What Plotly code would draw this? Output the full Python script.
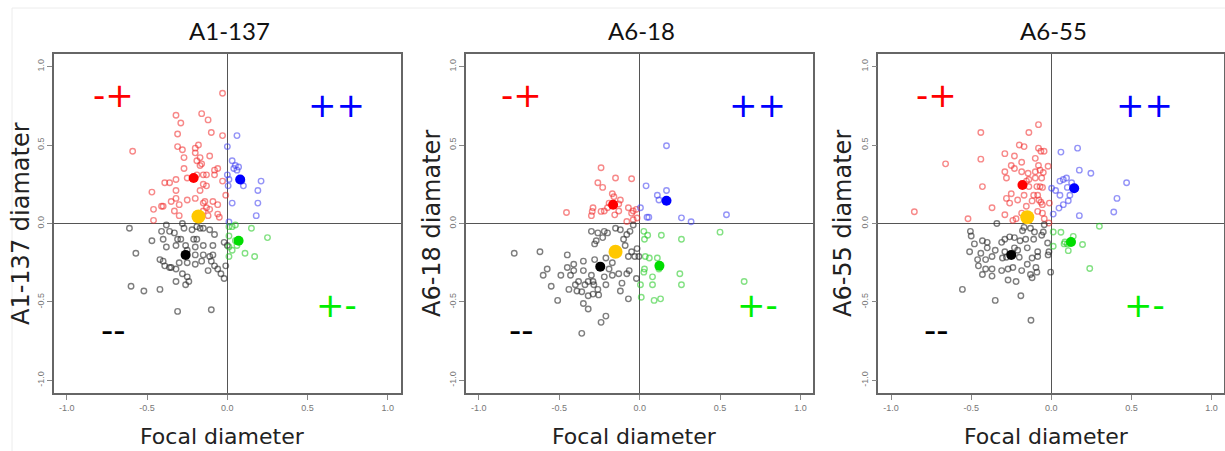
import plotly.graph_objects as go

# ---------------- data ----------------
titles = ["A1-137", "A6-18", "A6-55"]
y_titles = ["A1-137 diamater", "A6-18 diamater", "A6-55 diamater"]
x_title = "Focal diameter"
tick_vals = [-1.0, -0.5, 0.0, 0.5, 1.0]
tick_text = ["-1.0", "-0.5", "0.0", "0.5", "1.0"]
quad_labels = ["-+", "++", "+-", "--"]

# Panel 1: A1-137
a1_red_x = [-0.03, -0.59, -0.32, -0.16, -0.29, -0.12, -0.31, -0.10, -0.03, -0.31, -0.28, -0.20, -0.18, -0.20, -0.17,
            -0.27, -0.11, -0.19, -0.16, -0.17, -0.06, -0.08, -0.27, -0.15, -0.13, -0.08, -0.25, -0.19, -0.32, -0.36,
            -0.39, -0.03, -0.15, -0.17, -0.47, -0.32, -0.13, -0.01, -0.32, -0.35, -0.25, -0.20, -0.14, -0.09, -0.41,
            -0.40, -0.46, -0.30, -0.33, -0.13, -0.11, -0.06, -0.15, -0.06, -0.30, -0.46, -0.12, -0.05, -0.15]
a1_red_y = [0.83, 0.46, 0.69, 0.70, 0.64, 0.66, 0.57, 0.58, 0.56, 0.49, 0.47, 0.48, 0.50, 0.45, 0.42,
            0.42, 0.43, 0.40, 0.38, 0.37, 0.35, 0.34, 0.35, 0.31, 0.31, 0.31, 0.29, 0.31, 0.28, 0.26,
            0.26, 0.27, 0.25, 0.21, 0.20, 0.21, 0.24, 0.18, 0.16, 0.14, 0.15, 0.16, 0.14, 0.14, 0.11,
            0.11, 0.09, 0.12, 0.08, 0.10, 0.09, 0.12, 0.08, 0.06, 0.05, 0.02, 0.05, 0.04, 0.13]
a1_blue_x = [0.06, 0.00, 0.03, 0.05, 0.04, 0.06, 0.07, 0.00, 0.01, 0.005, 0.10, 0.09, 0.21, 0.19, 0.19, 0.03, 0.18, 0.01]
a1_blue_y = [0.56, 0.49, 0.40, 0.37, 0.35, 0.34, 0.36, 0.31, 0.28, 0.24, 0.24, 0.27, 0.27, 0.21, 0.13, 0.13, 0.05, 0.01]
a1_black_x = [-0.61, -0.47, -0.41, -0.38, -0.40, -0.36, -0.33, -0.31, -0.28, -0.27, -0.29, -0.22, -0.19, -0.17, -0.15,
              -0.11, -0.08, -0.21, -0.19, -0.26, -0.38, -0.32, -0.20, -0.15, -0.09, -0.02, 0.00, -0.57, -0.42, -0.40,
              -0.39, -0.36, -0.35, -0.32, -0.30, -0.25, -0.20, -0.20, -0.15, -0.16, -0.11, -0.09, -0.10, -0.08, -0.06,
              -0.12, -0.01, -0.04, -0.02, -0.28, -0.25, -0.24, -0.32, -0.26, -0.60, -0.52, -0.42, -0.31, -0.10, -0.25]
a1_black_y = [-0.03, -0.11, -0.05, -0.01, -0.10, -0.05, -0.06, -0.10, 0.00, -0.03, -0.10, -0.04, -0.02, -0.03, -0.03,
              -0.04, -0.07, -0.10, -0.10, -0.14, -0.15, -0.14, -0.15, -0.14, -0.14, -0.12, -0.14, -0.19, -0.23, -0.24,
              -0.27, -0.28, -0.28, -0.29, -0.25, -0.25, -0.20, -0.26, -0.20, -0.24, -0.21, -0.20, -0.24, -0.27, -0.29,
              -0.30, -0.27, -0.32, -0.35, -0.32, -0.34, -0.37, -0.37, -0.39, -0.40, -0.43, -0.42, -0.56, -0.55, -0.17]
a1_green_x = [0.01, 0.03, 0.05, 0.15, 0.25, 0.01, 0.01, 0.03, 0.05, 0.06, 0.01, 0.11, 0.17]
a1_green_y = [-0.02, -0.02, -0.01, -0.03, -0.09, -0.08, -0.15, -0.17, -0.11, -0.14, -0.21, -0.19, -0.21]
a1_mean_x = [-0.21, 0.08, -0.26, 0.07]      # red, blue, black, green
a1_mean_y = [0.29, 0.28, -0.20, -0.11]
a1_overall = [-0.18, 0.045]

# Panel 2: A6-18
a2_red_x = [-0.455, -0.24, -0.26, -0.23, -0.15, -0.05, -0.17, -0.16, -0.12, -0.13, -0.19, -0.29, -0.295, -0.30,
            -0.24, -0.22, -0.20, -0.155, -0.13, -0.07, -0.04, -0.05, -0.02, -0.04, -0.016, -0.08]
a2_red_y = [0.07, 0.355, 0.26, 0.23, 0.29, 0.285, 0.19, 0.17, 0.15, 0.125, 0.13, 0.10, 0.077, 0.05,
            0.077, 0.08, 0.10, 0.055, 0.08, 0.10, 0.08, 0.066, 0.09, 0.024, 0.035, 0.013]
a2_blue_x = [0.167, 0.04, 0.167, 0.11, 0.12, 0.005, 0.046, 0.057, 0.26, 0.32, 0.54]
a2_blue_y = [0.495, 0.24, 0.21, 0.18, 0.15, 0.10, 0.04, 0.04, 0.036, 0.011, 0.056]
a2_black_x = [-0.78, -0.62, -0.45, -0.575, -0.60, -0.55, -0.51, -0.49, -0.45, -0.43, -0.44, -0.41, -0.40, -0.35,
              -0.35, -0.36, -0.35, -0.32, -0.36, -0.32, -0.30, -0.29, -0.285, -0.26, -0.30, -0.26, -0.27, -0.23,
              -0.28, -0.22, -0.20, -0.15, -0.12, -0.10, -0.08, -0.06, -0.04, -0.09, -0.05, -0.016, -0.005, -0.03,
              -0.07, -0.28, -0.21, -0.17, -0.19, -0.22, -0.21, -0.17, -0.13, -0.11, -0.065, -0.02, -0.12, -0.07,
              -0.21, -0.24, -0.34, -0.38, -0.39, -0.32, -0.255, -0.29, -0.41, -0.08]
a2_black_y = [-0.19, -0.18, -0.20, -0.29, -0.33, -0.40, -0.49, -0.33, -0.28, -0.33, -0.42, -0.26, -0.39, -0.24,
              -0.30, -0.435, -0.51, -0.545, -0.70, -0.46, -0.33, -0.37, -0.39, -0.42, -0.05, -0.06, -0.11, -0.09,
              -0.13, -0.05, -0.06, -0.03, -0.04, -0.10, -0.07, -0.05, -0.01, -0.14, -0.18, -0.16, -0.21, -0.21,
              -0.21, -0.23, -0.22, -0.25, -0.29, -0.34, -0.39, -0.33, -0.32, -0.38, -0.30, -0.35, -0.43, -0.48,
              -0.59, -0.63, -0.39, -0.37, -0.43, -0.37, -0.455, -0.45, -0.30, -0.32]
a2_green_x = [0.026, 0.05, 0.03, 0.135, 0.26, 0.50, 0.035, 0.06, 0.11, 0.03, 0.026, 0.08, 0.12, 0.25, 0.005,
              0.08, 0.26, 0.01, 0.09, 0.13, 0.65]
a2_green_y = [-0.05, -0.075, -0.10, -0.075, -0.10, -0.055, -0.21, -0.22, -0.22, -0.29, -0.31, -0.34, -0.29, -0.32,
              -0.39, -0.39, -0.39, -0.47, -0.49, -0.48, -0.37]
a2_mean_x = [-0.165, 0.167, -0.245, 0.123]
a2_mean_y = [0.12, 0.145, -0.275, -0.27]
a2_overall = [-0.15, -0.18]

# Panel 3: A6-55
a3_red_x = [-0.855, -0.66, -0.52, -0.44, -0.44, -0.43, -0.37, -0.29, -0.29, -0.23, -0.20, -0.17, -0.14, -0.08,
            -0.08, -0.065, -0.045, -0.10, -0.08, -0.07, -0.02, -0.185, -0.25, -0.23, -0.29, -0.28, -0.185, -0.145,
            -0.10, -0.10, -0.14, -0.05, -0.06, -0.25, -0.28, -0.26, -0.21, -0.17, -0.14, -0.11, -0.09, -0.07,
            -0.055, -0.085, -0.077, -0.056, -0.065, -0.012, -0.156, -0.185, -0.22, -0.24, -0.085, -0.055, -0.044,
            -0.015, -0.12, -0.155]
a3_red_y = [0.075, 0.38, 0.03, 0.58, 0.41, 0.235, 0.10, 0.056, 0.445, 0.43, 0.50, 0.49, 0.58, 0.63,
            0.48, 0.46, 0.46, 0.415, 0.37, 0.34, 0.365, 0.39, 0.37, 0.35, 0.33, 0.29, 0.33, 0.32,
            0.33, 0.29, 0.28, 0.325, 0.29, 0.19, 0.16, 0.13, 0.15, 0.18, 0.235, 0.18, 0.235, 0.235,
            0.23, 0.18, 0.15, 0.12, 0.135, 0.13, 0.11, 0.066, 0.03, 0.02, 0.077, 0.066, 0.03,
            0.003, 0.144, 0.27]
a3_blue_x = [0.164, 0.06, 0.175, 0.247, 0.47, 0.41, 0.39, 0.075, 0.095, 0.127, 0.054, 0.002, 0.027, 0.10, 0.054,
             0.116, 0.106, 0.075, 0.048, 0.012, 0.175]
a3_blue_y = [0.48, 0.455, 0.34, 0.32, 0.26, 0.16, 0.073, 0.28, 0.29, 0.26, 0.27, 0.225, 0.21, 0.23, 0.18,
             0.18, 0.145, 0.12, 0.098, 0.06, 0.05]
a3_black_x = [-0.34, -0.505, -0.50, -0.48, -0.51, -0.46, -0.455, -0.43, -0.40, -0.40, -0.43, -0.41, -0.37, -0.37,
              -0.41, -0.44, -0.37, -0.35, -0.31, -0.29, -0.26, -0.23, -0.195, -0.16, -0.11, -0.18, -0.17, -0.13,
              -0.105, -0.06, -0.05, -0.044, -0.023, -0.15, -0.21, -0.23, -0.29, -0.305, -0.28, -0.20, -0.12,
              -0.085, -0.085, -0.015, -0.02, -0.15, -0.24, -0.27, -0.31, -0.185, -0.13, -0.12, -0.096, -0.09,
              -0.004, -0.27, -0.22, -0.555, -0.19, -0.35, -0.127]
a3_black_y = [0.0, -0.05, -0.08, -0.13, -0.18, -0.23, -0.27, -0.11, -0.12, -0.155, -0.325, -0.29, -0.29, -0.335,
              -0.23, -0.19, -0.21, -0.17, -0.12, -0.10, -0.085, -0.09, -0.11, -0.10, -0.10, -0.046, -0.025, -0.03,
              -0.054, -0.075, -0.054, -0.008, -0.124, -0.155, -0.17, -0.155, -0.18, -0.22, -0.215, -0.215, -0.22,
              -0.18, -0.21, -0.18, -0.20, -0.26, -0.28, -0.29, -0.30, -0.30, -0.325, -0.346, -0.28, -0.31,
              -0.31, -0.36, -0.37, -0.42, -0.46, -0.49, -0.616]
a3_green_x = [0.012, 0.06, 0.137, 0.30, 0.085, 0.106, 0.012, 0.195, 0.24, 0.08, 0.10]
a3_green_y = [-0.054, -0.056, -0.082, -0.018, -0.118, -0.173, -0.145, -0.134, -0.287, -0.13, -0.13]
a3_mean_x = [-0.18, 0.143, -0.25, 0.123]
a3_mean_y = [0.245, 0.225, -0.20, -0.118]
a3_overall = [-0.15, 0.04]

# ---------------- styling / layout ----------------
W, H = 1225, 451
open_cols = ["rgba(240,40,40,0.55)", "rgba(60,60,240,0.55)", "rgba(40,40,40,0.6)", "rgba(30,200,30,0.55)"]
fill_cols = ["#ff0000", "#0000ff", "#000000", "#00dd00"]
label_cols = ["#ff0000", "#0000ff", "#00ee00", "#000000"]
yellow = "#ffc800"

panels = [
    dict(red=(a1_red_x, a1_red_y), blue=(a1_blue_x, a1_blue_y), black=(a1_black_x, a1_black_y),
         green=(a1_green_x, a1_green_y), mx=a1_mean_x, my=a1_mean_y, ov=a1_overall),
    dict(red=(a2_red_x, a2_red_y), blue=(a2_blue_x, a2_blue_y), black=(a2_black_x, a2_black_y),
         green=(a2_green_x, a2_green_y), mx=a2_mean_x, my=a2_mean_y, ov=a2_overall),
    dict(red=(a3_red_x, a3_red_y), blue=(a3_blue_x, a3_blue_y), black=(a3_black_x, a3_black_y),
         green=(a3_green_x, a3_green_y), mx=a3_mean_x, my=a3_mean_y, ov=a3_overall),
]

# plot boxes in pixels (left, right); top/bottom shared
boxes_px = [(54, 400.7), (466, 813.3), (878.3, 1224.3)]
top_px, bot_px = 54, 393
# quadrant label positions (data units) per panel: (-+), (++), (+-), (--)
label_pos = [
    [(-0.71, 0.82), (0.68, 0.757), (0.68, -0.52), (-0.71, -0.677)],
    [(-0.735, 0.82), (0.73, 0.757), (0.73, -0.52), (-0.735, -0.677)],
    [(-0.715, 0.82), (0.584, 0.757), (0.584, -0.52), (-0.715, -0.677)],
]
ytitle_px = [21, 432, 843]

fig = go.Figure()
annotations = []
for i, p in enumerate(panels):
    ax = "" if i == 0 else str(i + 1)
    xa, ya = "x" + ax, "y" + ax
    for key, col in zip(["red", "blue", "black", "green"], open_cols):
        xs, ys = p[key]
        fig.add_trace(go.Scatter(x=xs, y=ys, mode="markers", xaxis=xa, yaxis=ya,
                                 marker=dict(symbol="circle-open", size=5.5, color=col,
                                             line=dict(width=1.4, color=col))))
    fig.add_trace(go.Scatter(x=p["mx"], y=p["my"], mode="markers", xaxis=xa, yaxis=ya,
                             marker=dict(symbol="circle", size=10, color=fill_cols, line=dict(width=0))))
    fig.add_trace(go.Scatter(x=[p["ov"][0]], y=[p["ov"][1]], mode="markers", xaxis=xa, yaxis=ya,
                             marker=dict(symbol="circle", size=14, color=yellow, line=dict(width=0))))

    l, r = boxes_px[i]
    dom_x = [l / W, r / W]
    dom_y = [1 - bot_px / H, 1 - top_px / H]
    axis_common = dict(range=[-1.08, 1.08], tickmode="array", tickvals=tick_vals, ticktext=tick_text,
                       showline=True, mirror=True, linecolor="#666666", linewidth=1.5,
                       ticks="outside", ticklen=5, tickcolor="#888888", tickwidth=1,
                       tickfont=dict(size=9, color="#777777", family="Liberation Sans"),
                       showgrid=False, zeroline=True, zerolinecolor="#555555", zerolinewidth=1.2,
                       fixedrange=True)
    fig.layout["xaxis" + ax] = dict(domain=dom_x, anchor=ya, **axis_common)
    fig.layout["yaxis" + ax] = dict(domain=dom_y, anchor=xa, tickangle=-90, **axis_common)

    # quadrant labels
    for lab, col, (lx, ly) in zip(quad_labels, label_cols, label_pos[i]):
        annotations.append(dict(x=lx, y=ly, xref=xa, yref=ya, text=lab, showarrow=False,
                                xanchor="center", yanchor="middle",
                                font=dict(size=34, color=col, family="DejaVu Sans")))
    # panel title
    cx = (l + r) / 2
    annotations.append(dict(x=(cx + 2) / W, y=1 - 30 / H, xref="paper", yref="paper", text=titles[i],
                            showarrow=False, xanchor="center", yanchor="middle",
                            font=dict(size=24, color="#111111", family="Lato")))
    # x axis title
    annotations.append(dict(x=(cx - 5) / W, y=1 - 436 / H, xref="paper", yref="paper", text=x_title,
                            showarrow=False, xanchor="center", yanchor="middle",
                            font=dict(size=22, color="#222222", family="DejaVu Sans")))
    # y axis title
    annotations.append(dict(x=ytitle_px[i] / W, y=1 - 224 / H, xref="paper", yref="paper", text=y_titles[i],
                            showarrow=False, xanchor="center", yanchor="middle", textangle=-90,
                            font=dict(size=24, color="#222222", family="DejaVu Sans")))

fig.update_layout(width=W, height=H, margin=dict(l=0, r=0, t=0, b=0),
                  paper_bgcolor="white", plot_bgcolor="white", showlegend=False,
                  annotations=annotations,
                  shapes=[dict(type="rect", xref="paper", yref="paper", x0=12 / W, y0=-0.01, x1=1.01, y1=1 - 8 / H,
                               line=dict(color="#ececec", width=1), layer="below")])

fig.write_html("out.html", config={"displayModeBar": False},
               post_script="document.body.style.margin='0';document.body.style.overflow='hidden';")
